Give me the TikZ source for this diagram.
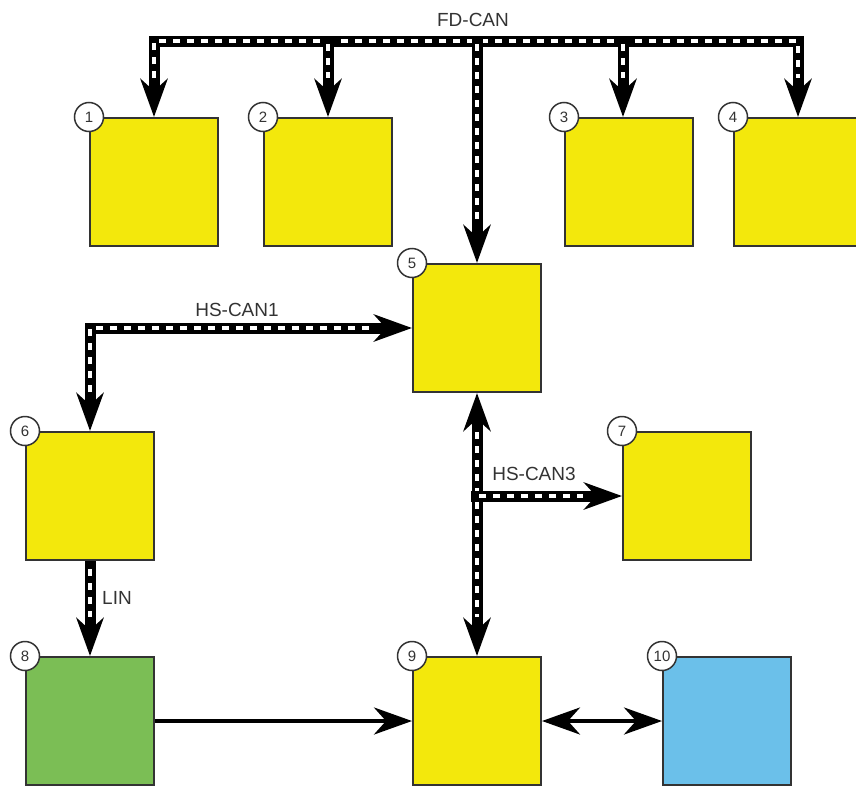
\documentclass[tikz,border=0pt]{standalone}
\usepackage{fontspec}
\setmainfont{Liberation Sans}
\usepackage{xcolor}
\definecolor{ecuYellow}{HTML}{F3E80C}
\definecolor{ecuGreen}{HTML}{7BBE55}
\definecolor{ecuBlue}{HTML}{6BC0EA}
\definecolor{edgeDark}{HTML}{333333}
\usepackage{tikz}
\usetikzlibrary{positioning,arrows.meta}
\tikzset{%
  >={Stealth[length=38pt,width=27pt,inset=12pt]},
  ecuBox/.style={%
    rectangle,
    draw=edgeDark,
    line width=2pt,
    fill=ecuYellow,
    minimum width=128pt,
    minimum height=128pt,
    inner sep=0pt
  },
  badge/.style={%
    circle,
    draw=edgeDark,
    line width=1.5pt,
    fill=white,
    minimum size=29pt,
    inner sep=0pt,
    text=edgeDark,
    font=\fontsize{15}{15}\selectfont
  },
  busLabel/.style={%
    inner sep=0pt,
    text=edgeDark,
    font=\fontsize{19}{19}\selectfont
  },
  busArrow/.style={%
    ->,
    line width=11pt,
    draw=black,
    postaction={draw=white, -, line width=4pt,
      dash pattern=on 7pt off 7pt, shorten <=8pt, shorten >=39pt}
  },
  busBoth/.style={%
    <->,
    line width=11pt,
    draw=black,
    postaction={draw=white, -, line width=4pt,
      dash pattern=on 7pt off 7pt, shorten <=39pt, shorten >=39pt}
  },
  solidArrow/.style={%
    ->,
    line width=4pt,
    draw=black
  }
}
\begin{document}
\begin{tikzpicture}[x=1pt,y=-1pt]
  \useasboundingbox (0,0) rectangle (856,787);
  \clip (0,0) rectangle (856,787);

  % control units
  \node[ecuBox] (n1) at (154,182) {};
  \node[ecuBox, right=44pt of n1] (n2) {};
  \node[ecuBox] (n3) at (629,182) {};
  \node[ecuBox, right=39pt of n3] (n4) {};
  \node[ecuBox] (n5) at (477,328) {};
  \node[ecuBox] (n6) at (90,496) {};
  \node[ecuBox] (n7) at (687,496) {};
  \node[ecuBox, fill=ecuGreen, below=95pt of n6] (n8) {};
  \node[ecuBox] (n9) at (n5 |- n8) {};
  \node[ecuBox, fill=ecuBlue, right=120pt of n9] (n10) {};

  \foreach \i in {1,...,10}
    \node[badge] (b\i) at (n\i.north west) {\i};

  % FD-CAN
  \coordinate (fdBus) at (0,41);
  \coordinate (fdTop) at (0,36);
  \coordinate (d3) at ([xshift=-6pt]n3.north);
  \draw[busBoth] (n1.north) |- (n4.north |- fdBus) -- (n4.north);
  \draw[busArrow] (n2.north |- fdTop) -- (n2.north);
  \draw[busArrow] (d3 |- fdTop) -- (d3);
  \draw[busArrow] (n5.north |- fdTop) -- (n5.north);
  \node[busLabel] (fdText) at (473,20) {FD-CAN};

  % HS-CAN1 and LIN
  \draw[busBoth] (n6.north) |- (n5.west);
  \node[busLabel] (hs1Text) at (237,310) {HS-CAN1};
  \draw[busArrow] (n6.south) -- (n8.north);
  \node[busLabel] (linText) at (117,598) {LIN};

  % HS-CAN3
  \coordinate (hsTap) at (471,496);
  \draw[busBoth] (n5.south) -- (n9.north);
  \draw[busArrow] (hsTap) -- (hsTap -| n7.west);
  \node[busLabel] (hs3Text) at (534,474) {HS-CAN3};

  \draw[solidArrow] (n8) -- (n9);
  \draw[solidArrow, <->] (n9) -- (n10);
\end{tikzpicture}
\end{document}
